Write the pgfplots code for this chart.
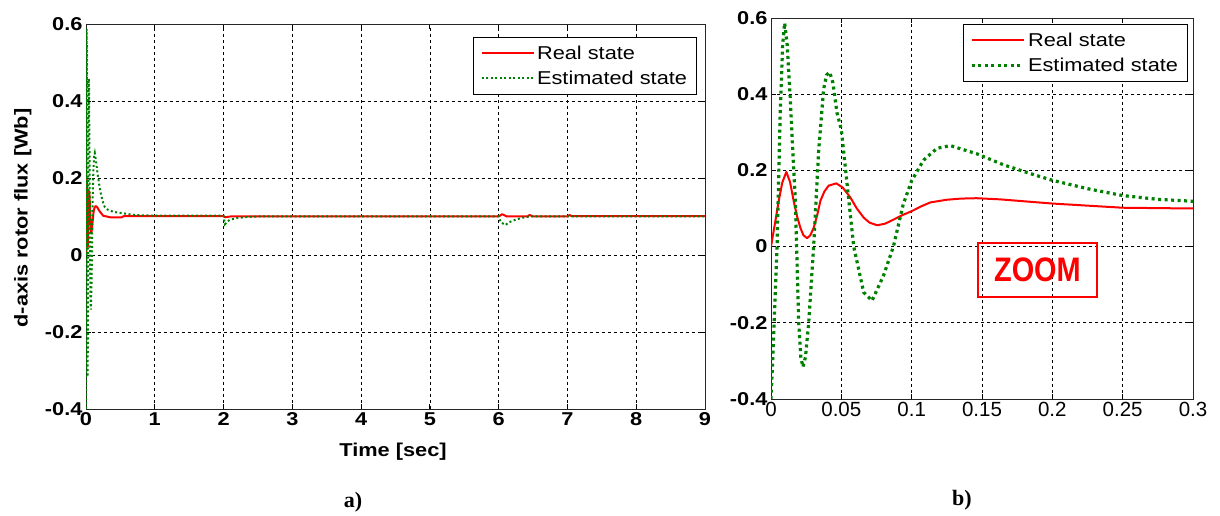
\documentclass[border=0pt]{standalone}
\usepackage{pgfplots}
\pgfplotsset{compat=1.18}
\usepackage{pgfplotstable}
\usepackage{graphicx}
\usepackage{fontspec}
\setmainfont{Liberation Sans}[FakeStretch=1.17]
\newfontfamily\plainsans{Liberation Sans}
\newfontfamily\serifbf{Liberation Serif}
\definecolor{mgreen}{RGB}{0,128,0}
\definecolor{mred}{RGB}{255,0,0}

\pgfplotstableread{
t v
0 0
0.003 0.065
0.0055 0.12
0.008 0.168
0.0109 0.196
0.0135 0.17
0.0161 0.12
0.0185 0.08
0.0209 0.049
0.023 0.03
0.0256 0.022
0.028 0.03
0.0303 0.049
0.033 0.085
0.0351 0.12
0.038 0.145
0.041 0.16
0.0464 0.166
0.051 0.155
0.0564 0.129
0.061 0.1
0.0659 0.076
0.070 0.063
0.0754 0.056
0.081 0.06
0.0872 0.071
0.093 0.082
0.1 0.093
0.107 0.106
0.1133 0.116
0.125 0.123
0.135 0.126
0.146 0.127
0.1627 0.124
0.2 0.113
0.25 0.102
0.3 0.1
0.35 0.098
0.52 0.098
0.55 0.101
2.0 0.101
2.02 0.098
2.1 0.1
6.0 0.1
6.05 0.106
6.12 0.1
6.42 0.1
6.45 0.104
6.5 0.1
7.0 0.1
7.03 0.104
7.06 0.101
9 0.101
}\realtab

\pgfplotstableread{
t v
0 -0.4
0.0019 -0.236
0.0043 0
0.0066 0.36
0.0083 0.53
0.0097 0.587
0.0115 0.53
0.0137 0.387
0.0155 0.25
0.0173 0.12
0.0197 -0.2
0.0212 -0.29
0.0227 -0.316
0.0245 -0.29
0.0268 -0.2
0.0303 0
0.0339 0.253
0.0374 0.413
0.0395 0.45
0.0417 0.458
0.0440 0.43
0.0469 0.351
0.05 0.307
0.0528 0.209
0.0588 0
0.0659 -0.12
0.0718 -0.142
0.080 -0.076
0.087 0
0.094 0.111
0.1 0.173
0.1085 0.227
0.118 0.258
0.1275 0.265
0.146 0.244
0.165 0.215
0.184 0.192
0.2 0.174
0.225 0.152
0.25 0.134
0.275 0.124
0.3 0.119
0.4 0.112
0.55 0.108
0.7 0.104
1.0 0.102
2.0 0.102
2.02 0.08
2.06 0.088
2.1 0.092
2.2 0.096
2.35 0.099
2.5 0.1
6.0 0.1
6.03 0.085
6.1 0.078
6.15 0.085
6.25 0.092
6.35 0.097
6.45 0.1
9 0.1
}\esttab

\pgfplotsset{
  mystyle/.style={
    scale only axis,
    anchor=south west,
    grid=major,
    major grid style={black, line width=0.6pt, dash pattern=on 3pt off 3pt},
    axis line style={black!85, line width=0.9pt},
    tick style={black, line width=0.8pt},
    major tick length=5pt,
    tick align=inside,
    ymin=-0.4, ymax=0.6,
    ytick={-0.4,-0.2,0,0.2,0.4,0.6},
    yticklabels={-0.4,-0.2,0,0.2,0.4,0.6},
    yticklabel style={font=\fontsize{18.6}{20}\selectfont\bfseries},
    legend cell align=left,
    legend image code/.code={\draw[##1] (0pt,0pt) -- (52pt,0pt);},
    legend style={draw=black, line width=0.8pt, fill=white,
      font=\fontsize{18.6}{22}\selectfont, inner xsep=7pt, inner ysep=6pt,
      nodes={inner sep=2.5pt}, row sep=5pt},
  }
}

\begin{document}
\begin{tikzpicture}
\path[use as bounding box] (0pt,0pt) rectangle (1220pt,516pt);

\begin{axis}[mystyle,
  at={(86pt,107pt)}, width=619pt, height=385pt,
  xmin=0, xmax=9,
  xtick={0,1,2,3,4,5,6,7,8,9},
  xticklabels={0,1,2,3,4,5,6,7,8,9},
  xticklabel style={font=\fontsize{18.6}{20}\selectfont\bfseries},
  xlabel={\bfseries Time [sec]},
  ylabel={\bfseries d-axis rotor flux [Wb]},
  label style={font=\fontsize{18.6}{20}\selectfont},
  xlabel style={at={(axis description cs:0.496,-0.112)}, anchor=center},
  ylabel style={at={(axis description cs:-0.102,0.496)}, anchor=center},
  legend style={at={(0.987,0.966)}, anchor=north east},
]
\addplot[mred, line width=2pt, line join=round] table[x=t,y=v]{\realtab};
\addlegendentry{Real state}
\addplot[mgreen, line width=2pt, dash pattern=on 2pt off 2.5pt] table[x=t,y=v]{\esttab};
\addlegendentry{Estimated state}
\end{axis}

\begin{axis}[mystyle,
  at={(771pt,117pt)}, width=422pt, height=381pt,
  xmin=0, xmax=0.3,
  xtick={0,0.05,0.1,0.15,0.2,0.25,0.3},
  xticklabels={0,0.05,0.1,0.15,0.2,0.25,0.3},
  xticklabel style={font=\plainsans\fontsize{20.5}{22}\selectfont},
  legend style={at={(0.988,0.984)}, anchor=north east},
]
\addplot[mred, line width=2pt, line join=round] table[x=t,y=v]{\realtab};
\addlegendentry{Real state}
\addplot[mgreen, line width=3.2pt, dash pattern=on 3pt off 3.5pt] table[x=t,y=v]{\esttab};
\addlegendentry{Estimated state}
\node[draw=mred, line width=2pt, minimum width=119pt, minimum height=54pt,
  inner sep=0pt, text=mred,
  font=\plainsans\bfseries\fontsize{34}{34}\selectfont]
  at (axis cs:0.1894,-0.061) {\scalebox{0.85}[1]{ZOOM}};
\end{axis}

\node[font=\serifbf\bfseries\fontsize{22}{24}\selectfont] at (353pt,14pt) {a)};
\node[font=\serifbf\bfseries\fontsize{22}{24}\selectfont] at (962pt,16pt) {b)};
\end{tikzpicture}
\end{document}
